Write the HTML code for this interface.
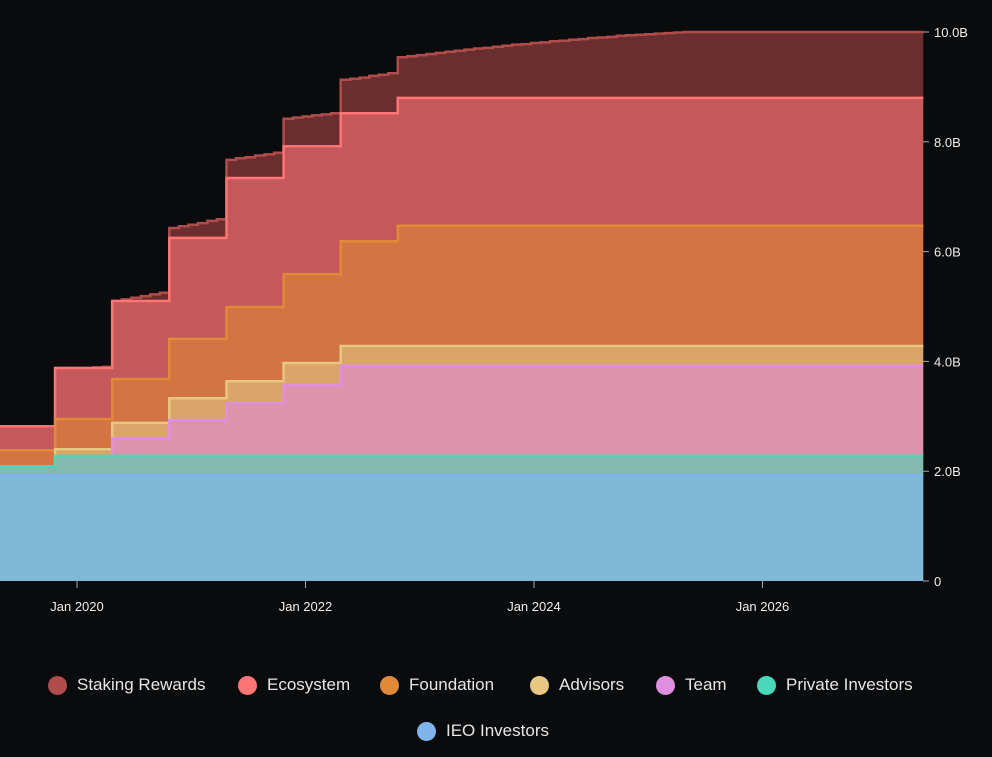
<!DOCTYPE html>
<html><head><meta charset="utf-8"><style>
body{margin:0;background:#0a0b0d;width:992px;height:757px;overflow:hidden;font-family:"Liberation Sans",sans-serif}
svg{display:block}
.lg{position:absolute;display:flex;align-items:center;color:#e6e6e6;font-size:17px}
.dot{width:19px;height:19px;border-radius:50%;margin-right:10px}
</style></head><body>
<svg id="chart" width="992" height="757"></svg>
<div class="lg" style="left:48px;top:675px"><div class="dot" style="background:#b04c4c"></div>Staking Rewards</div>
<div class="lg" style="left:238px;top:675px"><div class="dot" style="background:#ff7474"></div>Ecosystem</div>
<div class="lg" style="left:380px;top:675px"><div class="dot" style="background:#e08a38"></div>Foundation</div>
<div class="lg" style="left:530px;top:675px"><div class="dot" style="background:#e6c882"></div>Advisors</div>
<div class="lg" style="left:656px;top:675px"><div class="dot" style="background:#e08ee0"></div>Team</div>
<div class="lg" style="left:757px;top:675px"><div class="dot" style="background:#4ad8b8"></div>Private Investors</div>
<div class="lg" style="left:417px;top:721px"><div class="dot" style="background:#7eb6ec"></div>IEO Investors</div>
<script>
// period 0 = chart start, periods 1..7 begin every 6 months from Oct 2019
const ieo = [1.93,1.93,1.93,1.93,1.93,1.93,1.93,1.93];
const privateInv = [0.16,0.35,0.35,0.35,0.35,0.35,0.35,0.35];
const team = [0,0,0.32,0.65,0.96,1.29,1.64,1.64];
const advisors = [0,0.12,0.28,0.40,0.40,0.40,0.36,0.36];
const foundation = [0.29,0.55,0.80,1.08,1.35,1.62,1.91,2.19];
const ecosystem = [0.44,0.93,1.42,1.84,2.35,2.33,2.33,2.33];
// staking rewards, monthly from Oct 2019
const staking = [0,0,0,0,0.01,0.02, 0,0.03,0.06,0.09,0.12,0.15, 0.18,0.21,0.24,0.27,0.31,0.34,
 0.33,0.36,0.38,0.41,0.43,0.46, 0.50,0.52,0.54,0.56,0.58,0.60, 0.61,0.63,0.65,0.68,0.70,0.73,
 0.74,0.76,0.78,0.80,0.82,0.84,0.86,0.88,0.90,0.91,0.93,0.95,0.97,0.98,1.00,1.01,1.03,1.04,1.06,1.07,1.09,1.10,1.11,1.13,1.14,1.15,1.16,1.17,1.18,1.19,1.20,
 1.20,1.20,1.20,1.20,1.20,1.20,1.20,1.20,1.20,1.20,1.20,1.20,1.20,1.20,1.20,1.20,1.20,1.20,1.20,1.20,1.20,1.20,1.20,1.20,1.20];
const yTicks = [0,2,4,6,8,10];
const yTickLabels = ["0","2.0B","4.0B","6.0B","8.0B","10.0B"];
const xTicks = [0,24,48,72];
const xTickLabels = ["Jan 2020","Jan 2022","Jan 2024","Jan 2026"];

const svg=document.getElementById('chart');const NS='http://www.w3.org/2000/svg';
const X=m=>77+m*9.52; const Y=v=>581-v*54.9;
const mStart=-8.1, mEnd=88.9, firstStep=-2.3;
const samples=[mStart];
for(let j=0;j<staking.length;j++){const m=firstStep+j; if(m<mEnd) samples.push(m);}
const period=m=>m<firstStep?0:Math.min(7,1+Math.floor((m-firstStep+1e-6)/6));
const stakeAt=(m,i)=>m<firstStep?0:staking[i-1];
const series=[
 {n:'ieo-investors',f:m=>ieo[period(m)],fill:'#80b8d8',line:'#7eb6ec'},
 {n:'private-investors',f:m=>privateInv[period(m)],fill:'#82bab0',line:'#4ad8b8'},
 {n:'team',f:m=>team[period(m)],fill:'#dc93ab',line:'#e08ee0'},
 {n:'advisors',f:m=>advisors[period(m)],fill:'#dba468',line:'#e6c882'},
 {n:'foundation',f:m=>foundation[period(m)],fill:'#d37443',line:'#e08a38'},
 {n:'ecosystem',f:m=>ecosystem[period(m)],fill:'#c5585a',line:'#ff7474'},
 {n:'staking-rewards',f:(m,i)=>stakeAt(m,i),fill:'#6b2e2e',line:'#b04c4c'}
];
let base=samples.map(()=>0);
const tops=[];
series.forEach(s=>{const top=samples.map((m,i)=>base[i]+s.f(m,i));tops.push({s,top,base:base.slice()});base=top;});
function stepPts(arr){const p=[];for(let i=0;i<samples.length;i++){const x=X(samples[i]);if(i>0)p.push([x,Y(arr[i-1])]);p.push([x,Y(arr[i])]);}p.push([X(mEnd),Y(arr[arr.length-1])]);return p;}
tops.slice().reverse().forEach(t=>{
 const tp=stepPts(t.top), bp=stepPts(t.base).reverse();
 const area=document.createElementNS(NS,'path');
 area.setAttribute('d','M'+tp.concat(bp).map(p=>p[0].toFixed(1)+','+p[1].toFixed(1)).join('L')+'Z');
 area.setAttribute('fill',t.s.fill);
 
 
 svg.appendChild(area);
});
tops.slice().reverse().forEach(t=>{
 const tp=stepPts(t.top);
 const ln=document.createElementNS(NS,'path');
 ln.setAttribute('d','M'+tp.map(p=>p[0].toFixed(1)+','+p[1].toFixed(1)).join('L'));
 ln.setAttribute('fill','none');ln.setAttribute('stroke',t.s.line);ln.setAttribute('stroke-width','2.5');
 
 
 svg.appendChild(ln);
});
yTicks.forEach((v,i)=>{
 const tk=document.createElementNS(NS,'line');
 tk.setAttribute('x1',923);tk.setAttribute('x2',929);tk.setAttribute('y1',Y(v));tk.setAttribute('y2',Y(v));tk.setAttribute('stroke','#aaa');
 
 
 svg.appendChild(tk);
 const t=document.createElementNS(NS,'text');
 t.setAttribute('x',934);t.setAttribute('y',Y(v)+5);t.setAttribute('fill','#eee');t.setAttribute('font-size','13');
 t.textContent=yTickLabels[i];
 
 
 svg.appendChild(t);
});
xTicks.forEach((m,i)=>{
 const tk=document.createElementNS(NS,'line');
 tk.setAttribute('x1',X(m));tk.setAttribute('x2',X(m));tk.setAttribute('y1',581);tk.setAttribute('y2',588);tk.setAttribute('stroke','#aaa');
 
 
 svg.appendChild(tk);
 const t=document.createElementNS(NS,'text');
 t.setAttribute('x',X(m));t.setAttribute('y',611);t.setAttribute('fill','#eee');t.setAttribute('font-size','13');t.setAttribute('text-anchor','middle');
 t.textContent=xTickLabels[i];
 
 
 svg.appendChild(t);
});
</script>
</body></html>
